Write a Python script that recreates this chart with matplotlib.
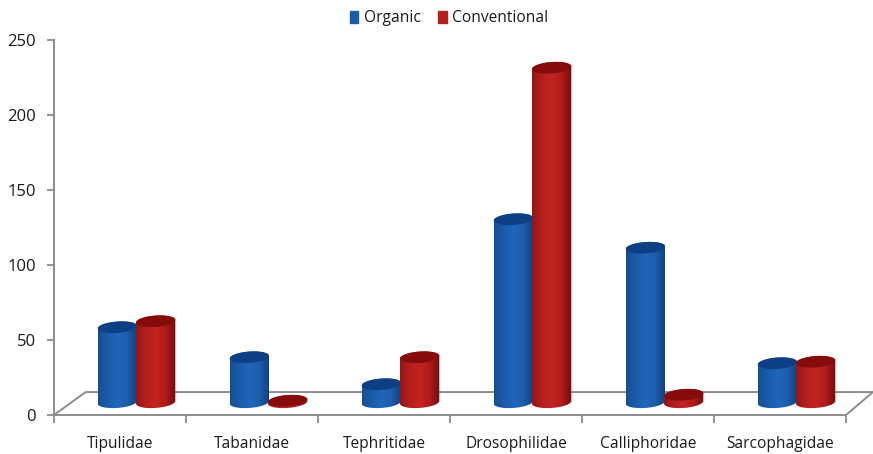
import numpy as np
import matplotlib.pyplot as plt
from matplotlib.colors import LinearSegmentedColormap
from matplotlib.patches import Patch, PathPatch
from matplotlib.path import Path

plt.rcParams['font.family'] = ['Open Sans', 'DejaVu Sans']

families = ['Tipulidae', 'Tabanidae', 'Tephritidae', 'Drosophilidae', 'Calliphoridae', 'Sarcophagidae']
organic = [50, 30, 12, 122, 103, 26]
conventional = [54, 1, 30, 223, 5, 27]
yticks = [0, 50, 100, 150, 200, 250]

W, H = 873, 454
left, right = 54, 846
bottom, top = 415, 40

# pseudo-3D settings, in axis units
bar_w = 0.298
base = 8.5
semi_h = 3.8
tilt = 0.9
depth_x = 0.24
depth_y = 15.3
gray = '#8c8c8c'

blue_map = LinearSegmentedColormap.from_list('blue3d', ['#154e96', '#1b5cab', '#2166ba', '#1c5cac', '#0f3f7e'])
red_map = LinearSegmentedColormap.from_list('red3d', ['#961616', '#b51f1f', '#c2241f', '#ae1c1c', '#780b0b'])
blue_top = '#0d3f84'
red_top = '#860c0c'

fig = plt.figure(figsize=(W / 100, H / 100), dpi=100)
ax = fig.add_axes([left / W, 1 - bottom / H, (right - left) / W, (bottom - top) / H])


def cap(xc, yc):
    t = np.linspace(0, 2 * np.pi, 80)
    xs = xc + bar_w / 2 * np.cos(t)
    ys = yc + semi_h * np.sin(t) + tilt * np.cos(t)
    return xs, ys


def cylinder(xc, value, cmap, top_color):
    y0 = base
    y1 = base + value
    t = np.linspace(np.pi, 2 * np.pi, 40)
    xb = xc + bar_w / 2 * np.cos(t)
    yb = y0 + semi_h * np.sin(t) + tilt * np.cos(t)
    t2 = t[::-1]
    xt = xc + bar_w / 2 * np.cos(t2)
    yt = y1 + semi_h * np.sin(t2) * -1 + tilt * np.cos(t2)
    verts = np.column_stack([np.r_[xb, xt], np.r_[yb, yt]])
    body = PathPatch(Path(np.vstack([verts, verts[0]])), fc='none', ec='none')
    ax.add_patch(body)
    grad = np.linspace(0, 1, 64).reshape(1, -1)
    im = ax.imshow(grad, cmap=cmap, aspect='auto', interpolation='bilinear',
                   extent=[xc - bar_w / 2, xc + bar_w / 2, y0 - 8, y1 + 8], zorder=3)
    im.set_clip_path(body)
    xs, ys = cap(xc, y1)
    ax.fill(xs, ys, color=top_color, lw=0, zorder=3)


# floor behind the bars
ax.plot([0, depth_x, 6 + depth_x * 0.85], [0, depth_y, depth_y], color=gray, lw=1.4, clip_on=False, zorder=1)
ax.plot([6, 6 + depth_x * 0.85], [0, depth_y], color=gray, lw=1.4, clip_on=False, zorder=1)

for i in range(len(families)):
    cylinder(i + 0.48, organic[i], blue_map, blue_top)
    cylinder(i + 0.77, conventional[i], red_map, red_top)

ax.set_xlim(0, 6)
ax.set_ylim(0, 250)
ax.set_yticks(yticks)
ax.set_xticks(np.arange(7))
ax.set_xticklabels([])
ax.set_xticks(np.arange(6) + 0.5, families, minor=True)
ax.tick_params(axis='x', which='major', length=6, width=1.3, color=gray)
ax.tick_params(axis='x', which='minor', length=0, pad=15, labelsize=11.2, labelcolor='#1a1a1a')
ax.tick_params(axis='y', length=5, width=1.3, color=gray, labelsize=12, labelcolor='#1a1a1a', pad=8)
for s in ['top', 'right']:
    ax.spines[s].set_visible(False)
for s in ['left', 'bottom']:
    ax.spines[s].set_color(gray)
    ax.spines[s].set_linewidth(1.4)

handles = [Patch(color='#1b5cab', label='Organic'), Patch(color='#b51f1f', label='Conventional')]
fig.legend(handles=handles, loc='upper center', ncol=2, frameon=False, fontsize=11.2,
           bbox_to_anchor=(449 / W, 1.008), handlelength=0.55, handleheight=0.8,
           handletextpad=0.35, columnspacing=1.15, labelcolor='#1a1a1a')

fig.savefig('out.png', dpi=100)
